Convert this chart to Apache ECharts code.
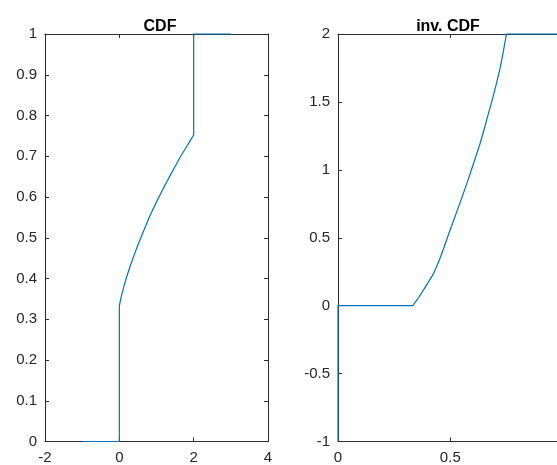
<!DOCTYPE html>
<html>
<head>
<meta charset="utf-8">
<script src="https://cdn.jsdelivr.net/npm/echarts@6/dist/echarts.min.js"></script>
<style>
html,body{margin:0;padding:0;background:#fff;}
#c{width:557px;height:465px;}
</style>
</head>
<body>
<div id="c"></div>
<script>
// CDF (left panel): x values and F(x)
var cdfX = [-1, 0, 0, 0.05, 0.12, 0.2, 0.29, 0.4, 0.5, 0.6, 0.7, 0.8, 0.9, 1.0, 1.1, 1.2, 1.35, 1.5, 1.65, 1.8, 1.9, 2.0, 2.0, 3.0];
var cdfY = [0, 0, 0.333, 0.355, 0.38, 0.405, 0.43, 0.458, 0.482, 0.505, 0.527, 0.549, 0.569, 0.588, 0.606, 0.624, 0.65, 0.675, 0.70, 0.722, 0.737, 0.752, 1, 1];
// inverse CDF (right panel): probability and quantile
var invP = [0, 0, 0.333, 0.36, 0.39, 0.424, 0.45, 0.469, 0.49, 0.513, 0.535, 0.558, 0.58, 0.6, 0.632, 0.65, 0.669, 0.69, 0.707, 0.722, 0.736, 0.75, 1.0];
var invY = [-1, 0, 0, 0.062, 0.14, 0.232, 0.33, 0.415, 0.515, 0.62, 0.72, 0.825, 0.93, 1.03, 1.19, 1.295, 1.41, 1.535, 1.645, 1.75, 1.87, 2.0, 2.0];
var titles = ['CDF', 'inv. CDF'];

function pairs(xs, ys) { return xs.map(function (x, i) { return [x, ys[i]]; }); }

var axisColor = '#2b2b2b';
var font = 'Liberation Sans, Arial, Helvetica, sans-serif';

function mkAxis(gridIndex, position, min, max, interval, showLabel, margin) {
  return {
    type: 'value', gridIndex: gridIndex, position: position,
    min: min, max: max, interval: interval,
    axisLine: { show: true, onZero: false, lineStyle: { color: axisColor, width: 1 } },
    axisTick: { show: true, inside: true, length: 4, lineStyle: { color: axisColor, width: 1 } },
    axisLabel: { show: showLabel, color: '#262626', fontSize: 15, fontFamily: font, margin: margin },
    splitLine: { show: false }
  };
}

var chart = echarts.init(document.getElementById('c'), null, { renderer: 'canvas' });
chart.setOption({
  animation: false,
  backgroundColor: '#fff',
  title: [
    { text: titles[0], left: 155, top: 14, textAlign: 'center',
      textStyle: { fontSize: 16, fontWeight: 'bold', color: '#000', fontFamily: font } },
    { text: titles[1], left: 443, top: 14, textAlign: 'center',
      textStyle: { fontSize: 16, fontWeight: 'bold', color: '#000', fontFamily: font } }
  ],
  grid: [
    { left: 45, top: 34, width: 223, height: 407.5, outerBoundsMode: 'none' },
    { left: 338, top: 34, width: 224.6, height: 407.5, outerBoundsMode: 'none' }
  ],
  xAxis: [
    mkAxis(0, 'bottom', -2, 4, 2, true, 9),
    mkAxis(0, 'top', -2, 4, 2, false, 9),
    mkAxis(1, 'bottom', 0, 1, 0.5, true, 9),
    mkAxis(1, 'top', 0, 1, 0.5, false, 9)
  ],
  yAxis: [
    mkAxis(0, 'left', 0, 1, 0.1, true, 8),
    mkAxis(0, 'right', 0, 1, 0.1, false, 8),
    mkAxis(1, 'left', -1, 2, 0.5, true, 8),
    mkAxis(1, 'right', -1, 2, 0.5, false, 8)
  ],
  series: [
    { type: 'line', xAxisIndex: 0, yAxisIndex: 0, data: pairs(cdfX, cdfY),
      showSymbol: false, clip: false, lineStyle: { color: '#0072BD', width: 1.2 } },
    { type: 'line', xAxisIndex: 2, yAxisIndex: 2, data: pairs(invP, invY),
      showSymbol: false, clip: false, lineStyle: { color: '#0072BD', width: 1.2 } }
  ]
});
</script>
</body>
</html>
